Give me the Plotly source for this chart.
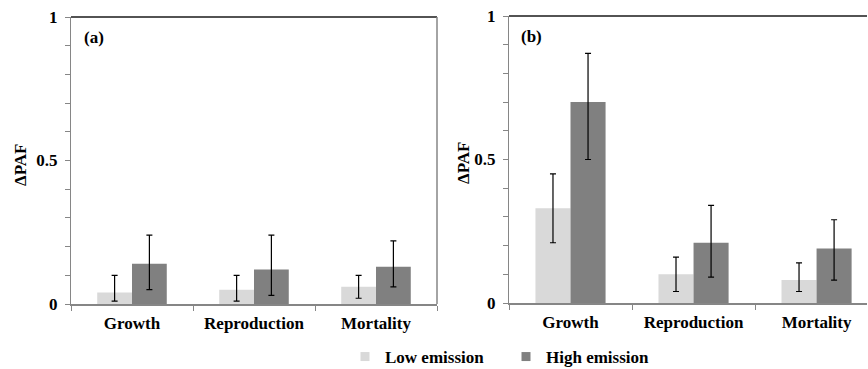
import numpy as np
import plotly.graph_objects as go

categories = ["Growth", "Reproduction", "Mortality"]
series_names = ["Low emission", "High emission"]

# Panel (a)
a_low = [0.04, 0.05, 0.06]
a_low_upper = [0.10, 0.10, 0.10]
a_low_lower = [0.01, 0.01, 0.02]
a_high = [0.14, 0.12, 0.13]
a_high_upper = [0.24, 0.24, 0.22]
a_high_lower = [0.05, 0.03, 0.06]

# Panel (b)
b_low = [0.33, 0.10, 0.08]
b_low_upper = [0.45, 0.16, 0.14]
b_low_lower = [0.21, 0.04, 0.04]
b_high = [0.70, 0.21, 0.19]
b_high_upper = [0.87, 0.34, 0.29]
b_high_lower = [0.50, 0.09, 0.08]

y_tick_vals = [0, 0.1, 0.2, 0.3, 0.4, 0.5, 0.6, 0.7, 0.8, 0.9, 1.0]
y_tick_text = ["0", "", "", "", "", "0.5", "", "", "", "", "1"]

panel_labels = ["(a)", "(b)"]
y_title = "ΔPAF"

FONT = "Liberation Serif"
LOW_COLOR = "#d9d9d9"
HIGH_COLOR = "#808080"
AXIS_COLOR = "#868686"
COLORS = [LOW_COLOR, HIGH_COLOR]

fig = go.Figure()


def add_bar(name, vals, upper, lower, color, xa, ya):
    v = np.array(vals)
    fig.add_trace(go.Bar(
        x=categories, y=vals, name=name, marker=dict(color=color, line=dict(width=0)),
        error_y=dict(type="data", symmetric=False,
                     array=list(np.array(upper) - v), arrayminus=list(v - np.array(lower)),
                     color="black", thickness=1.2, width=3),
        xaxis=xa, yaxis=ya, showlegend=False, legendgroup=name,
    ))


add_bar(series_names[0], a_low, a_low_upper, a_low_lower, LOW_COLOR, "x", "y")
add_bar(series_names[1], a_high, a_high_upper, a_high_lower, HIGH_COLOR, "x", "y")
add_bar(series_names[0], b_low, b_low_upper, b_low_lower, LOW_COLOR, "x2", "y2")
add_bar(series_names[1], b_high, b_high_upper, b_high_lower, HIGH_COLOR, "x2", "y2")

# legend-only entries with small square symbols
for name, color in zip(series_names, COLORS):
    fig.add_trace(go.Scatter(
        x=[None], y=[None], mode="markers", name=name, legendgroup=name,
        marker=dict(symbol="square", size=9, color=color, line=dict(width=0)),
        xaxis="x", yaxis="y", showlegend=True,
    ))

W, H = 868, 369


def xdom(l, r):
    return [l / W, r / W]


def ydom(top, bottom):
    return [1 - bottom / H, 1 - top / H]


BOLD = dict(family=FONT, size=17, color="black", weight="bold")

xaxis_common = dict(
    type="category", showline=True, linecolor=AXIS_COLOR, linewidth=1.5,
    ticks="outside", tickson="boundaries", ticklen=5, tickcolor=AXIS_COLOR, tickwidth=1,
    showgrid=False, zeroline=False, fixedrange=True, automargin=False,
    tickfont=BOLD, ticklabelstandoff=3,
)
yaxis_common = dict(
    range=[0, 1], tickmode="array", tickvals=y_tick_vals, ticktext=y_tick_text,
    showline=True, linecolor=AXIS_COLOR, linewidth=1,
    ticks="outside", ticklen=5, tickcolor=AXIS_COLOR, tickwidth=1,
    showgrid=False, zeroline=False, fixedrange=True, automargin=False,
    tickfont=BOLD, ticklabelstandoff=4,
)

fig.update_layout(
    width=W, height=H,
    margin=dict(l=0, r=0, t=0, b=0, autoexpand=False),
    paper_bgcolor="white", plot_bgcolor="white",
    font=BOLD,
    barmode="group", bargap=0.43, bargroupgap=0,
    xaxis=dict(domain=xdom(71, 437), anchor="y", range=[-0.5, 2.5], **xaxis_common),
    yaxis=dict(domain=ydom(17, 304), anchor="x", **yaxis_common),
    xaxis2=dict(domain=xdom(509, 867), anchor="y2", range=[-0.5, 2.41], **xaxis_common),
    yaxis2=dict(domain=ydom(16, 303), anchor="x2", **yaxis_common),
    legend=dict(orientation="h", x=345 / W, xanchor="left", y=1 - 357 / H, yanchor="middle",
                font=BOLD, itemwidth=30, entrywidth=116, entrywidthmode="pixels",
                tracegroupgap=0, bgcolor="rgba(0,0,0,0)"),
    showlegend=True,
)

# Frame lines (top and right of each panel)
fig.add_shape(type="line", xref="x domain", yref="y domain", x0=0, x1=1, y0=1, y1=1,
              line=dict(color="#1a1a1a", width=1.5))
fig.add_shape(type="line", xref="x domain", yref="y domain", x0=1, x1=1, y0=0, y1=1,
              line=dict(color=AXIS_COLOR, width=1.5))
fig.add_shape(type="line", xref="x2 domain", yref="y2 domain", x0=0, x1=1, y0=1, y1=1,
              line=dict(color="#1a1a1a", width=1.5))

# Panel labels
fig.add_annotation(text=panel_labels[0], xref="x domain", yref="y domain", x=0.03, y=0.93,
                   xanchor="left", yanchor="middle", showarrow=False, font=BOLD)
fig.add_annotation(text=panel_labels[1], xref="x2 domain", yref="y2 domain", x=0.027, y=0.93,
                   xanchor="left", yanchor="middle", showarrow=False, font=BOLD)

# Y titles
for xpx, ypx in [(20, 165), (463, 163)]:
    fig.add_annotation(text=y_title, xref="paper", yref="paper", x=xpx / W, y=1 - ypx / H,
                       xanchor="center", yanchor="middle", textangle=-90, showarrow=False,
                       font=BOLD)

fig.write_html("out.html")
